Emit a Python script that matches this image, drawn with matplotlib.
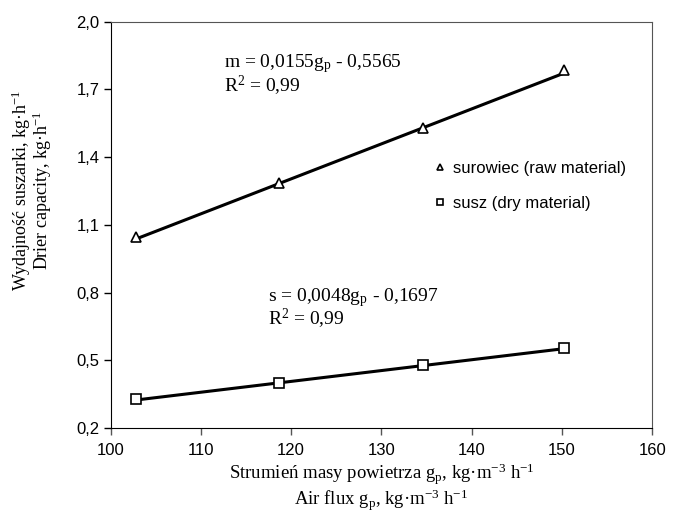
import numpy as np
import matplotlib
matplotlib.use("Agg")
import matplotlib.pyplot as plt
from matplotlib.ticker import FuncFormatter

# air flux g_p, kg m-3 h-1
air_flux = [102.8, 118.7, 134.6, 150.2]
# drier capacity, kg h-1
raw_material = [1.045, 1.285, 1.53, 1.785]
dry_material = [0.328, 0.400, 0.478, 0.553]

# trend lines reported on the chart
raw_fit = (0.0155, -0.5565)
dry_fit = (0.0048, -0.1697)

x_ticks = [100, 110, 120, 130, 140, 150, 160]
y_ticks = [0.2, 0.5, 0.8, 1.1, 1.4, 1.7, 2.0]

plt.rcParams['font.family'] = ['Liberation Sans', 'DejaVu Sans']
plt.rcParams['mathtext.fontset'] = 'custom'
plt.rcParams['mathtext.rm'] = 'Liberation Serif'
plt.rcParams['mathtext.it'] = 'Liberation Serif:italic'
serif = ['Liberation Serif', 'DejaVu Serif']

fig = plt.figure(figsize=(6.74, 5.15), dpi=100)
ax = fig.add_axes([0.164, 0.169, 0.804, 0.789])

xs = np.array([min(air_flux), max(air_flux)])
ax.plot(xs, raw_fit[0] * xs + raw_fit[1], color='black', lw=2.2, zorder=2)
ax.plot(xs, dry_fit[0] * xs + dry_fit[1], color='black', lw=2.2, zorder=2)

ax.plot(air_flux, raw_material, ls='none', marker='^', ms=7, mfc='white',
        mec='black', mew=1.2, zorder=3, label='surowiec (raw material)')
ax.plot(air_flux, dry_material, ls='none', marker='s', ms=6.5, mfc='white',
        mec='black', mew=1.2, zorder=3, label='susz (dry material)')

ax.set_xlim(100, 160)
ax.set_ylim(0.2, 2.0)
ax.set_xticks(x_ticks)
ax.set_yticks(y_ticks)
ax.yaxis.set_major_formatter(FuncFormatter(lambda v, p: f'{v:.1f}'.replace('.', ',')))
ax.tick_params(direction='out', length=5, width=1, labelsize=12, pad=3, colors='black')
ax.tick_params(axis='x', color='#555555', pad=6)

for side in ['left', 'bottom']:
    ax.spines[side].set_color('black')
for side in ['top', 'right']:
    ax.spines[side].set_color('#555555')

leg = ax.legend(loc='center left', bbox_to_anchor=(0.598, 0.596), frameon=False,
                fontsize=12, handlelength=0.7, handletextpad=0.4, labelspacing=1.2,
                borderpad=0, borderaxespad=0, markerscale=0.6)

# equations
ax.text(112.6, 1.799, r'm = 0,0155g$_\mathrm{p}$ - 0,5565', fontsize=14, family=serif, va='baseline')
ax.text(112.6, 1.688, r'R$^2$ = 0,99', fontsize=14, family=serif, va='baseline')
ax.text(117.4, 0.763, r's = 0,0048g$_\mathrm{p}$ - 0,1697', fontsize=14, family=serif, va='baseline')
ax.text(117.4, 0.657, r'R$^2$ = 0,99', fontsize=14, family=serif, va='baseline')

fig.text(0.566, 0.070, r'Strumień masy powietrza g$_\mathrm{p}$, kg·m$^{-3}$ h$^{-1}$',
         ha='center', va='baseline', fontsize=13.5, family=serif)
fig.text(0.566, 0.019, r'Air flux g$_\mathrm{p}$, kg·m$^{-3}$ h$^{-1}$',
         ha='center', va='baseline', fontsize=13.5, family=serif)
fig.text(0.047, 0.631, 'Wydajność suszarki, kg·h$^{-1}$\nDrier capacity, kg·h$^{-1}$',
         rotation=90, ha='center', va='center', multialignment='center',
         fontsize=13, family=serif, linespacing=0.85)

fig.savefig('out.png', dpi=100)
